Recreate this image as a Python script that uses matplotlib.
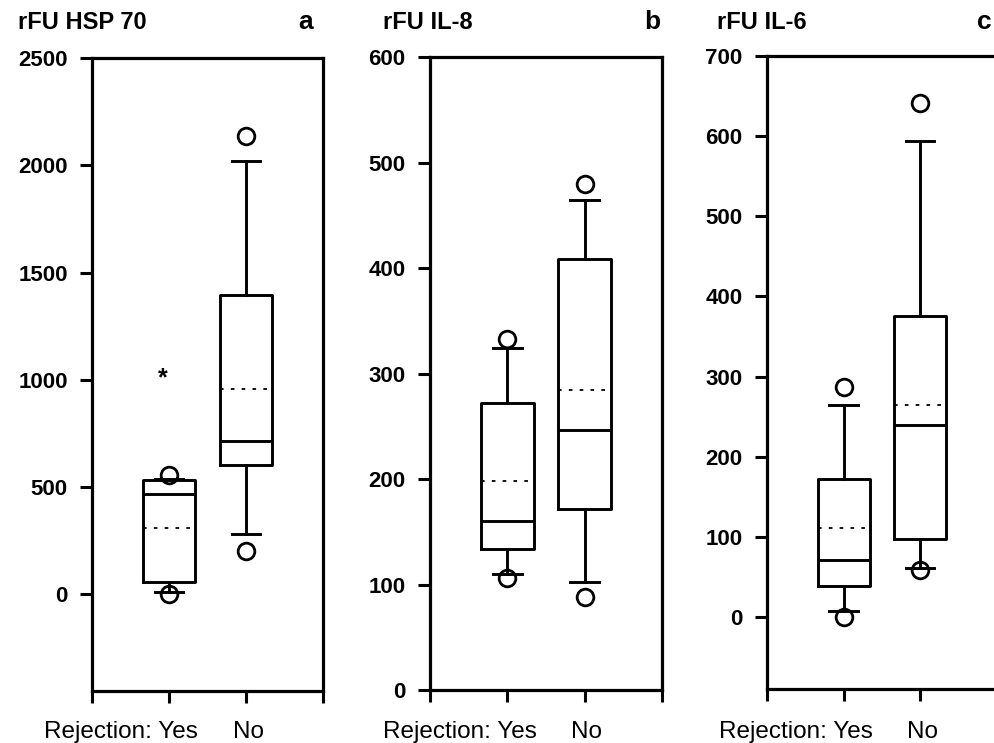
import matplotlib
matplotlib.use("Agg")
import matplotlib.pyplot as plt
import matplotlib.transforms as mtransforms

plt.rcParams["font.family"] = ["Liberation Sans", "DejaVu Sans"]

# values: (whisker low, q1, median, mean, q3, whisker high)
hsp_yes = [10, 56, 467, 308, 533, 540]
hsp_no = [280, 605, 715, 958, 1397, 2020]
hsp_yes_out = [0, 555]
hsp_no_out = [201, 2136]
hsp_extreme = 1005  # the asterisk

il8_yes = [110, 134, 160, 198, 272, 324]
il8_no = [102, 172, 247, 284, 409, 465]
il8_yes_out = [106, 333]
il8_no_out = [88, 480]

il6_yes = [7, 39, 71, 111, 172, 265]
il6_no = [61, 97, 239, 265, 375, 594]
il6_yes_out = [0, 287]
il6_no_out = [59, 641]

titles = ["rFU HSP 70", "rFU IL-8", "rFU IL-6"]
letters = ["a", "b", "c"]
ylims = [(-450, 2500), (0, 600), (-90, 700)]
ysteps = [500, 100, 100]


def stats(vals, out, label):
    lo, q1, med, mean, q3, hi = vals
    return dict(whislo=lo, q1=q1, med=med, mean=mean, q3=q3, whishi=hi,
                fliers=out, label=label)


panels = [
    (stats(hsp_yes, hsp_yes_out, "Yes"), stats(hsp_no, hsp_no_out, "No")),
    (stats(il8_yes, il8_yes_out, "Yes"), stats(il8_no, il8_no_out, "No")),
    (stats(il6_yes, il6_yes_out, "Yes"), stats(il6_no, il6_no_out, "No")),
]

fig = plt.figure(figsize=(9.94, 7.43), dpi=100)
rects = [
    [0.0926, 0.070, 0.2324, 0.852],
    [0.4326, 0.0713, 0.2334, 0.8517],
    [0.7716, 0.0727, 0.2314, 0.8519],
]
title_x = [18, 383, 717]
letter_x = [313, 660, 992]

lw = 2.1
for i, (rect, (s_yes, s_no)) in enumerate(zip(rects, panels)):
    ax = fig.add_axes(rect)
    ax.bxp([s_yes, s_no], positions=[1, 2], widths=0.68, capwidths=0.37,
           showmeans=True, meanline=True,
           boxprops=dict(color="black", linewidth=lw),
           whiskerprops=dict(color="black", linewidth=lw),
           capprops=dict(color="black", linewidth=lw),
           medianprops=dict(color="black", linewidth=lw),
           meanprops=dict(color="black", linewidth=1.3, linestyle=(0, (2, 4))),
           flierprops=dict(marker="o", markerfacecolor="none",
                           markeredgecolor="black", markersize=12,
                           markeredgewidth=2))
    if i == 0:
        ax.text(0.92, hsp_extreme, "*", ha="center", va="center",
                fontsize=18, fontweight="bold")
    lo, hi = ylims[i]
    ax.set_ylim(lo, hi)
    ax.set_yticks(range(0, hi + 1, ysteps[i]))
    ax.set_xlim(0, 3)
    ax.set_xticks([0, 1, 2, 3])
    ax.set_xticklabels([])
    ax.tick_params(direction="out", length=8.5, width=2.2, pad=9,
                   labelsize=16)
    for lab in ax.get_yticklabels():
        lab.set_fontweight("bold")
    for sp in ax.spines.values():
        sp.set_linewidth(2.3)

    tr = mtransforms.blended_transform_factory(ax.transData, fig.transFigure)
    ax.text(1.38, 0.007, "Rejection: Yes", ha="right", va="baseline",
            fontsize=17.5, transform=tr)
    ax.text(2.03, 0.007, "No", ha="center", va="baseline",
            fontsize=17.5, transform=tr)

    fig.text(title_x[i] / 994, 1 - 29 / 743, titles[i], ha="left",
             va="baseline", fontsize=17, fontweight="bold")
    fig.text(letter_x[i] / 994, 1 - 29 / 743, letters[i], ha="right",
             va="baseline", fontsize=19, fontweight="bold")

fig.savefig("out.png", dpi=100)
